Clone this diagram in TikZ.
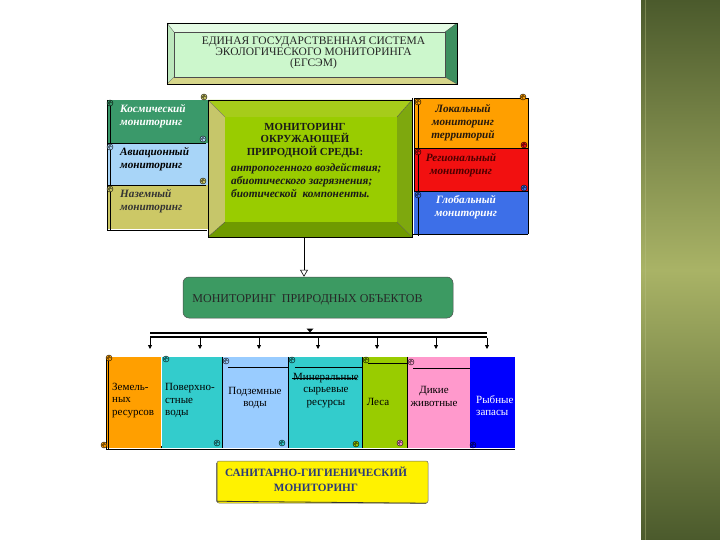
\documentclass[tikz,border=0pt]{standalone}
\usepackage{fontspec}
\setmainfont{Liberation Serif}
\usetikzlibrary{arrows.meta}
\definecolor{stripdark}{HTML}{4B5A2C}
\definecolor{striplight}{HTML}{A9B366}
\definecolor{titleface}{HTML}{CCF7CC}
\definecolor{titletop}{HTML}{E4FBE4}
\definecolor{titleleft}{HTML}{BDE8BD}
\definecolor{titlebot}{HTML}{D6D68A}
\definecolor{titleright}{HTML}{3D8F5F}
\definecolor{kgreen}{HTML}{3A996A}
\definecolor{kblue}{HTML}{A8D5F8}
\definecolor{kkhaki}{HTML}{CCC866}
\definecolor{cface}{HTML}{99CC00}
\definecolor{ctop}{HTML}{A6CC1A}
\definecolor{cleft}{HTML}{C6C66A}
\definecolor{cbot}{HTML}{6F9A00}
\definecolor{cright}{HTML}{7EA80E}
\definecolor{korange}{HTML}{FF9F00}
\definecolor{kred}{HTML}{F21010}
\definecolor{kglob}{HTML}{3D6FE8}
\definecolor{objgreen}{HTML}{3C9A62}
\definecolor{bteal}{HTML}{33CCCC}
\definecolor{blight}{HTML}{99CCFF}
\definecolor{bpink}{HTML}{FF99CC}
\definecolor{bblue}{HTML}{0000FF}
\definecolor{navytxt}{HTML}{2B3A7A}
\newcommand\curlmark[3]{%
  \filldraw[draw=black,line width=0.4pt,fill=#3] (#1,#2) circle[radius=3pt];
  \draw[line width=0.4pt] (#1,#2) ++(0:1.5pt) arc[start angle=0,end angle=270,radius=1.5pt];}
\begin{document}
\begin{tikzpicture}[x=1pt,y=-1pt,
  edge/.style={draw=black,line width=0.5pt},
  bevel/.style={draw=black!70,line width=0.3pt},
  capsfont/.style={font=\fontsize{11.5}{11}\selectfont},
  panelfont/.style={font=\bfseries\itshape\fontsize{11.2}{13}\selectfont, inner sep=0pt, align=left},
  boxfont/.style={font=\fontsize{11}{12.5}\selectfont, inner sep=0pt},
  downarrow/.style={line width=0.8pt,-{Triangle[length=4pt,width=4pt]}},
  openarrow/.style={line width=0.6pt,-{Triangle[open,length=7pt,width=8pt]}}]
\useasboundingbox (0,0) rectangle (720,540);
\fill[white] (0,0) rectangle (720,540);
% right decorative strip
\shade[top color=stripdark,bottom color=striplight] (641,0) rectangle (720,270);
\shade[top color=striplight,bottom color=stripdark] (641,270) rectangle (720,540);
\draw[striplight!80!white,opacity=0.4,line width=1pt] (645,0) -- (645,540);

% ---------- title box ----------
\fill[titletop] (167,23) -- (457,23) -- (445,32) -- (174,32) -- cycle;
\fill[titleleft] (167,23) -- (174,32) -- (174,77) -- (167,84) -- cycle;
\fill[titlebot] (167,84) -- (174,77) -- (445,77) -- (457,84) -- cycle;
\fill[titleright] (457,23) -- (445,32) -- (445,77) -- (457,84) -- cycle;
\node[fill=titleface,bevel,minimum width=271pt,minimum height=45pt,inner sep=0pt] (titleface) at (309.5,54.5) {};
\draw[bevel] (167,23) -- (174,32) (457,23) -- (445,32) (167,84) -- (174,77) (457,84) -- (445,77);
\draw[edge] (167,23) rectangle (457,84);
\node[capsfont,align=center,text=black!85,inner sep=0pt] (title) at (313.5,53)
  {ЕДИНАЯ ГОСУДАРСТВЕННАЯ СИСТЕМА\\ЭКОЛОГИЧЕСКОГО МОНИТОРИНГА\\(ЕГСЭМ)};

% ---------- left stack ----------
\fill[kgreen] (108,100) rectangle (210,143);
\fill[kblue] (108,143) rectangle (210,185);
\fill[kkhaki] (108,185) rectangle (210,229);
\draw[line width=0.4pt] (108,143) -- (206,143) (108,185) -- (206,185);
\draw[edge] (107,100) -- (107,231) (110,100) -- (110,231) (107,230.5) -- (207,230.5);
\curlmark{110}{103}{kgreen}
\curlmark{110}{147}{kblue}
\curlmark{110}{189}{kkhaki}
\curlmark{204}{97}{kkhaki}
\curlmark{203}{139}{kblue}
\curlmark{203}{181}{kkhaki}
\node[panelfont,text=white,anchor=west] (kosm) at (120,116.5) {Космический\\мониторинг};
\node[panelfont,text=black,anchor=west] (avia) at (120,159) {Авиационный\\мониторинг};
\node[panelfont,text=black!80,anchor=west] (nazem) at (120,201) {Наземный\\мониторинг};

% ---------- right stack ----------
\fill[korange] (414,98) rectangle (528,148);
\fill[kred] (414,148) rectangle (528,191);
\fill[kglob] (414,191) rectangle (528,234);
\draw[line width=0.5pt] (414,98) rectangle (528,148) (414,148) rectangle (528,191) (414,191) -- (528,191) -- (528,234);
\draw[edge] (412,98) -- (412,236) (418,98) -- (418,236) (412,234.5) -- (528,234.5);
\curlmark{418}{102}{korange}
\curlmark{418}{152}{kred}
\curlmark{418}{195}{kglob}
\curlmark{523}{97}{korange}
\curlmark{524}{145}{kred}
\curlmark{524}{188}{kglob}
\node[panelfont,align=center,text=black!80!brown] (local) at (463,122.5) {Локальный\\мониторинг\\территорий};
\node[panelfont,align=center,text=red!30!black] (region) at (461,165) {Региональный\\мониторинг};
\node[panelfont,align=center,text=white] (global) at (466,207.5) {Глобальный\\мониторинг};

% ---------- central box ----------
\fill[ctop] (208,100) -- (412,100) -- (397,117) -- (225,117) -- cycle;
\fill[cleft] (208,100) -- (225,117) -- (225,222) -- (208,237) -- cycle;
\fill[cbot] (208,237) -- (225,222) -- (397,222) -- (412,237) -- cycle;
\fill[cright] (412,100) -- (397,117) -- (397,222) -- (412,237) -- cycle;
\fill[cface] (225,117) rectangle (397,222);
\draw[bevel] (208,100) -- (225,117) (412,100) -- (397,117) (208,237) -- (225,222) (412,237) -- (397,222);
\node[edge,minimum width=204pt,minimum height=137pt,inner sep=0pt] (cbox) at (310,168.5) {};
\node[font=\bfseries\fontsize{10.8}{12.5}\selectfont,align=center,text=black!90,inner sep=0pt] (ctitle) at (305,140.5)
  {МОНИТОРИНГ\\ОКРУЖАЮЩЕЙ\\ПРИРОДНОЙ СРЕДЫ:};
\node[font=\bfseries\itshape\fontsize{11.3}{13}\selectfont,align=left,text=black!90,inner sep=0pt,anchor=west] (clist) at (231,180.5)
  {антропогенного воздействия;\\абиотического загрязнения;\\биотической\ \ компоненты.};

% ---------- natural objects ----------
\node[draw=black!70,line width=0.5pt,fill=objgreen,rounded corners=6pt,minimum width=270pt,minimum height=41pt] (objbox) at (318,297.5) {};
\node[font=\fontsize{12}{12}\selectfont,text=black!85,inner sep=0pt] (objtxt) at (307.5,300) {МОНИТОРИНГ\ \ ПРИРОДНЫХ ОБЪЕКТОВ};
\draw[openarrow] ([xshift=-6pt]cbox.south) -- ([xshift=-14pt]objbox.north);

% ---------- bus ----------
\coordinate (busL) at (150,335);
\coordinate (busR) at (487,335);
\draw[line width=1.8pt] ([yshift=-2.2pt]busL) -- ([yshift=-2.2pt]busR);
\draw[line width=1.8pt] ([yshift=2.2pt]busL) -- ([yshift=2.2pt]busR);
\fill (306.5,328.5) -- (313.5,328.5) -- (310,332.5) -- cycle;

% ---------- bottom boxes ----------
\node[fill=korange,minimum width=54pt,minimum height=91pt,inner sep=0pt] (b1) at (134,402.5) {};
\node[fill=bteal,minimum width=61pt,minimum height=91pt,inner sep=0pt] (b2) at (191.5,402.5) {};
\node[fill=blight,minimum width=66pt,minimum height=91pt,inner sep=0pt] (b3) at (255,402.5) {};
\node[fill=bteal,minimum width=74pt,minimum height=91pt,inner sep=0pt] (b4) at (325,402.5) {};
\node[fill=cface,minimum width=45pt,minimum height=91pt,inner sep=0pt] (b5) at (384.5,402.5) {};
\node[fill=bpink,minimum width=63pt,minimum height=91pt,inner sep=0pt] (b6) at (438.5,402.5) {};
\node[fill=bblue,minimum width=45pt,minimum height=91pt,inner sep=0pt] (b7) at (492.5,402.5) {};
\draw[line width=0.4pt] (b1.north east) -- (b1.south east) (b2.north east) -- (b2.south east)
  (b3.north east) -- (b3.south east) (b4.north east) -- (b4.south east)
  (b5.north east) -- (b5.south east);
\draw[line width=1.2pt,white] (161.5,357) -- (161.5,446);
\draw[line width=0.5pt] (228,367.5) -- (288,367.5) (295,367.5) -- (362,367.5) (368,363) -- (407,363) (413,368) -- (470,368);
\draw[line width=0.4pt] (292,378) -- (357,378);
\draw[edge] (106,357) -- (106,450) (108.5,357) -- (108.5,450) (106,449.5) -- (515,449.5);
\curlmark{109}{358}{korange}
\curlmark{104}{445}{korange}
\curlmark{166}{359}{bteal}
\curlmark{217}{443}{bteal}
\curlmark{226}{361}{blight}
\curlmark{282}{443}{bteal}
\curlmark{292}{360}{bteal}
\curlmark{356}{444}{cface}
\curlmark{366}{360}{cface}
\curlmark{400}{443}{bpink}
\curlmark{411}{362}{bpink}
\curlmark{473}{445}{bblue}

\node[boxfont,align=left,anchor=west] (t1) at (112,400.5) {Земель-\\ных\\ресурсов};
\node[boxfont,align=left,anchor=west] (t2) at (165,400.5) {Поверхно-\\стные\\воды};
\node[boxfont,align=center] (t3) at (255,398) {Подземные\\воды};
\node[boxfont,align=center] (t4) at (326,390.5) {Минеральные\\сырьевые\\ресурсы};
\node[boxfont,align=center] (t5) at (378,402) {Леса};
\node[boxfont,align=center] (t6) at (434,396.5) {Дикие\\животные};
\node[boxfont,align=left,anchor=west,text=white] (t7) at (476,405.5) {Рыбные\\запасы};

\foreach \x in {150,200,259,318,377,436,487}{
  \draw[downarrow,shorten >=8pt] (\x,337.5) -- (\x,357);
}

% ---------- sanitary box ----------
\node[fill=yellow,draw=black!60,line width=0.5pt,rounded corners=2pt,minimum width=211pt,minimum height=42pt] (sanbox) at (322.5,482) {};
\draw[line width=0.8pt,black!80] ([yshift=-2pt]sanbox.north west) -- ([yshift=2pt]sanbox.south west) -- ([xshift=-2pt]sanbox.south east);
\node[font=\bfseries\fontsize{11.2}{15}\selectfont,align=center,text=navytxt,inner sep=0pt] (santxt) at (316,479.5)
  {САНИТАРНО-ГИГИЕНИЧЕСКИЙ\\МОНИТОРИНГ};
\end{tikzpicture}
\end{document}
